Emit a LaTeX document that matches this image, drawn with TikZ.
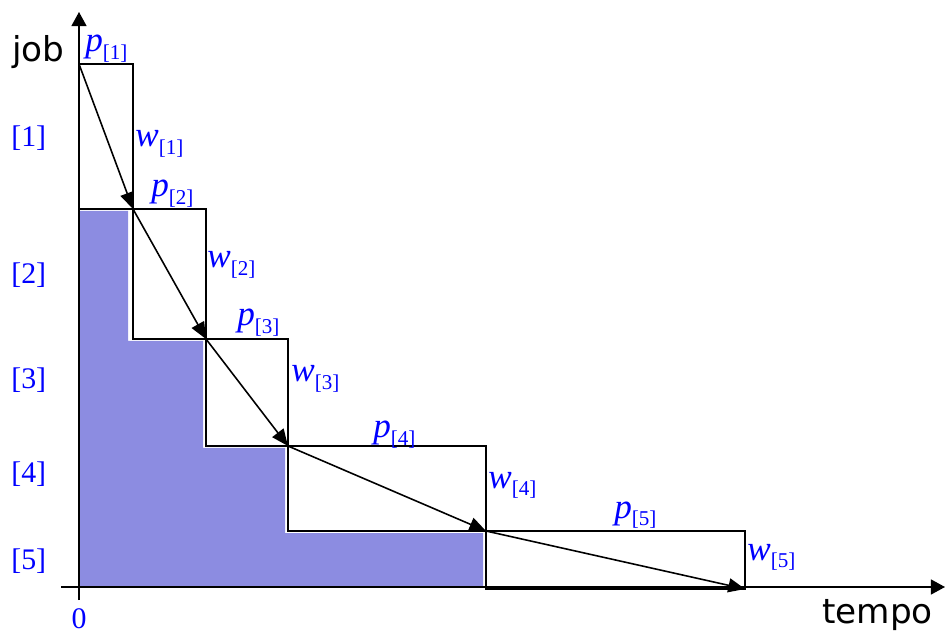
\documentclass[tikz,border=0pt]{standalone}
\usepackage{fontspec}
\setmainfont{Liberation Serif}
\newfontfamily\axisfont{DejaVu Sans}
\usetikzlibrary{arrows.meta}

\newcommand{\seqlab}[2]{\textit{#1}\raisebox{-4.5pt}{\fontsize{12}{13}\selectfont[#2]}}

\begin{document}
\begin{tikzpicture}[x=0.02cm, y=-0.02cm,
  box/.style={draw, line width=1.1pt},
  flow/.style={-{Triangle[length=9.5pt, width=8pt]}, line width=0.9pt},
  axis/.style={-{Triangle[length=8pt, width=8.5pt]}, line width=0.9pt},
  lab/.style={text=blue, font=\fontsize{17}{20}\selectfont, inner sep=0pt},
  sublab/.style={text=blue, font=\fontsize{20}{22}\selectfont, inner sep=0pt},
  axlab/.style={font=\axisfont\fontsize{19.5}{21}\selectfont, inner sep=0pt},
  shade/.style={fill={rgb,255:red,140;green,140;blue,225}}
]
\useasboundingbox (0,0) rectangle (946,634);

% corners of the job blocks
\coordinate (s0) at (79,64);
\coordinate (s1) at (133,209);
\coordinate (s2) at (206,339);
\coordinate (s3) at (288,446);
\coordinate (s4) at (486,531);
\coordinate (s5) at (745,589);

% axis ends
\coordinate (ybot) at (79,600);
\coordinate (ytop) at (79,12);
\coordinate (xlft) at (61,587);
\coordinate (xrgt) at (945,587);

% waiting area
\fill[shade] (80,586) -- (80,211) -- (128,211) -- (128,341) -- (203,341)
  -- (203,448) -- (285,448) -- (285,533) -- (483,533) -- (483,586) -- cycle;

\draw[box] (s0) rectangle (s1);
\draw[box] (s1) rectangle (s2);
\draw[box] (s2) rectangle (s3);
\draw[box] (s3) rectangle (s4);
\draw[box] (s4) rectangle (s5);

\draw[axis] (ybot) -- (ytop);
\draw[axis] (xlft) -- (xrgt);

\draw[flow] (s0) -- (s1);
\draw[flow] (s1) -- (s2);
\draw[flow] (s2) -- (s3);
\draw[flow] (s3) -- (s4);
\draw[flow] (s4) -- (s5);

% labels
\node[axlab, anchor=base west] (job)   at (12,62)  {job};
\node[axlab, anchor=base west] (tempo) at (822,623) {tempo};
\node[lab, anchor=base] (zero) at (79,628) {0};

\node[lab, anchor=base west] (j1) at (11,147) {[1]};
\node[lab, anchor=base west] (j2) at (11,284) {[2]};
\node[lab, anchor=base west] (j3) at (11,389) {[3]};
\node[lab, anchor=base west] (j4) at (11,482) {[4]};
\node[lab, anchor=base west] (j5) at (11,569) {[5]};

\node[sublab, anchor=base west] (p1) at (85,52)   {\seqlab{p}{1}};
\node[sublab, anchor=base west] (p2) at (151,197) {\seqlab{p}{2}};
\node[sublab, anchor=base west] (p3) at (237,326) {\seqlab{p}{3}};
\node[sublab, anchor=base west] (p4) at (373,438) {\seqlab{p}{4}};
\node[sublab, anchor=base west] (p5) at (614,518) {\seqlab{p}{5}};

\node[sublab, anchor=base west] (w1) at (135,147) {\seqlab{w}{1}};
\node[sublab, anchor=base west] (w2) at (207,268) {\seqlab{w}{2}};
\node[sublab, anchor=base west] (w3) at (291,382) {\seqlab{w}{3}};
\node[sublab, anchor=base west] (w4) at (488,488) {\seqlab{w}{4}};
\node[sublab, anchor=base west] (w5) at (747,560) {\seqlab{w}{5}};
\end{tikzpicture}
\end{document}
